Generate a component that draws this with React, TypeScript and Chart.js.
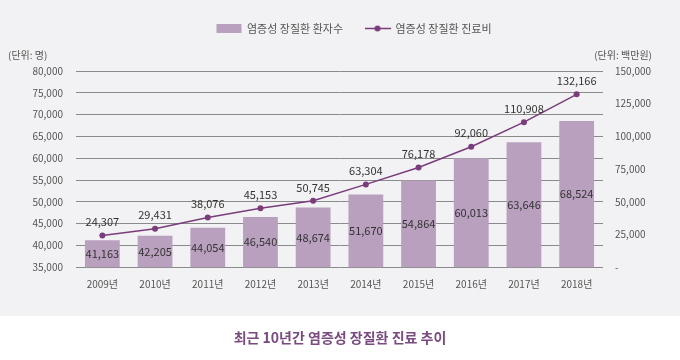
import React, { useEffect, useRef } from "react";
import { Chart, registerables } from "chart.js";

Chart.register(...registerables);

const years = ["2009년", "2010년", "2011년", "2012년", "2013년", "2014년", "2015년", "2016년", "2017년", "2018년"];
const patients = [41163, 42205, 44054, 46540, 48674, 51670, 54864, 60013, 63646, 68524];
const costs = [24307, 29431, 38076, 45153, 50745, 63304, 76178, 92060, 110908, 132166];
const patientLabel = "염증성 장질환 환자수";
const costLabel = "염증성 장질환 진료비";
const leftUnit = "(단위: 명)";
const rightUnit = "(단위: 백만원)";
const titleText = "최근 10년간 염증성 장질환 진료 추이";

const FONT = "'Noto Sans CJK KR', 'Noto Sans', sans-serif";
const BAR_COLOR = "#b9a0bf";
const LINE_COLOR = "#7a3d7c";
const TEXT_COLOR = "#555555";
const GRID_COLOR = "#8a8a8a";

function fmt(v: number) {
  return v.toLocaleString("en-US");
}

function makeLineIcon() {
  const c = document.createElement("canvas");
  c.width = 26;
  c.height = 9;
  const ctx = c.getContext("2d")!;
  ctx.strokeStyle = LINE_COLOR;
  ctx.lineWidth = 1.5;
  ctx.beginPath();
  ctx.moveTo(0, 4.5);
  ctx.lineTo(26, 4.5);
  ctx.stroke();
  ctx.fillStyle = LINE_COLOR;
  ctx.beginPath();
  ctx.arc(13, 4.5, 3, 0, Math.PI * 2);
  ctx.fill();
  return c;
}

export default function App() {
  const ref = useRef<HTMLCanvasElement | null>(null);

  useEffect(() => {
    document.body.style.margin = "0";
    const lineIcon = makeLineIcon();

    const legendMargin = {
      id: "legendMargin",
      beforeInit(chart: any) {
        const lg = chart.legend;
        const origFit = lg.fit;
        lg.fit = function () {
          origFit.bind(lg)();
          this.height += 27;
        };
        const origDraw = lg.draw;
        lg.draw = function () {
          const ctx = chart.ctx;
          ctx.save();
          ctx.translate(14, 0);
          origDraw.bind(lg)();
          ctx.restore();
        };
      },
    };

    const labelsPlugin = {
      id: "valueLabels",
      afterDatasetsDraw(chart: any) {
        const ctx = chart.ctx;
        const area = chart.chartArea;
        ctx.save();
        // bar labels
        const barMeta = chart.getDatasetMeta(0);
        ctx.font = `11px ${FONT}`;
        ctx.fillStyle = "#333333";
        ctx.textAlign = "center";
        ctx.textBaseline = "middle";
        barMeta.data.forEach((el: any, i: number) => {
          const base = Math.min(el.base, area.bottom);
          const y = (el.y + base) / 2;
          ctx.fillText(fmt(patients[i]), el.x, y);
        });
        // line labels
        const lineMeta = chart.getDatasetMeta(1);
        ctx.textBaseline = "bottom";
        lineMeta.data.forEach((el: any, i: number) => {
          ctx.fillText(fmt(costs[i]), el.x, el.y - 8);
        });
        // units
        ctx.font = `10px ${FONT}`;
        ctx.fillStyle = TEXT_COLOR;
        ctx.textBaseline = "middle";
        ctx.textAlign = "left";
        ctx.fillText(leftUnit, 8, area.top - 16);
        ctx.textAlign = "right";
        ctx.fillText(rightUnit, 652, area.top - 16);
        ctx.restore();
      },
    };

    const chart = new Chart(ref.current!, {
      data: {
        labels: years,
        datasets: [
          {
            type: "bar",
            label: patientLabel,
            data: patients,
            yAxisID: "y",
            backgroundColor: BAR_COLOR,
            barPercentage: 0.66,
            categoryPercentage: 1,
            order: 2,
          },
          {
            type: "line",
            label: costLabel,
            data: costs,
            yAxisID: "y1",
            borderColor: LINE_COLOR,
            backgroundColor: LINE_COLOR,
            borderWidth: 1.5,
            pointRadius: 3,
            pointBackgroundColor: LINE_COLOR,
            pointBorderWidth: 0,
            order: 1,
          },
        ],
      } as any,
      options: {
        animation: false,
        responsive: false,
        maintainAspectRatio: false,
        layout: { padding: { top: 1, left: 0, right: 0, bottom: 0 } },
        plugins: {
          legend: {
            display: true,
            position: "top",
            labels: {
              font: { family: FONT, size: 11 },
              color: TEXT_COLOR,
              usePointStyle: true,
              pointStyleWidth: 25,
              boxHeight: 9,
              padding: 22,
              generateLabels: () => [
                {
                  text: patientLabel,
                  fillStyle: BAR_COLOR,
                  strokeStyle: BAR_COLOR,
                  lineWidth: 0,
                  pointStyle: "rect",
                  datasetIndex: 0,
                  hidden: false,
                  fontColor: TEXT_COLOR,
                } as any,
                {
                  text: costLabel,
                  fillStyle: LINE_COLOR,
                  strokeStyle: LINE_COLOR,
                  lineWidth: 0,
                  pointStyle: lineIcon,
                  datasetIndex: 1,
                  hidden: false,
                  fontColor: TEXT_COLOR,
                } as any,
              ],
            },
          },
          title: {
            display: true,
            position: "bottom",
            text: titleText,
            color: "#7a4a80",
            font: { family: FONT, size: 14, weight: "bold" },
            padding: { top: 36, bottom: 14 },
          },
          tooltip: { enabled: false },
        },
        scales: {
          x: {
            grid: { display: false },
            border: { display: false },
            ticks: { color: TEXT_COLOR, font: { family: FONT, size: 10 }, padding: 3 },
          },
          y: {
            position: "left",
            min: 35000,
            max: 80000,
            grid: { color: GRID_COLOR, drawTicks: false, lineWidth: 1 },
            border: { display: false },
            ticks: {
              stepSize: 5000,
              color: TEXT_COLOR,
              font: { family: FONT, size: 10 },
              padding: 13,
              callback: (v: any) => fmt(Number(v)),
            },
            afterFit: (s: any) => {
              s.width = 76;
            },
          },
          y1: {
            position: "right",
            min: 0,
            max: 150000,
            grid: { display: false, drawTicks: false },
            border: { display: false },
            ticks: {
              stepSize: 25000,
              color: TEXT_COLOR,
              font: { family: FONT, size: 10 },
              padding: 12,
              callback: (v: any) => (Number(v) === 0 ? "-" : fmt(Number(v))),
            },
            afterFit: (s: any) => {
              s.width = 77;
            },
          },
        },
      } as any,
      plugins: [legendMargin, labelsPlugin],
    });
    return () => chart.destroy();
  }, []);

  return (
    <div
      style={{
        position: "absolute",
        left: 0,
        top: 0,
        width: 680,
        height: 360,
        background: "linear-gradient(to bottom, #f2f1f3 0px, #f2f1f3 316px, #ffffff 316px)",
      }}
    >
      <canvas ref={ref} width={680} height={360} style={{ width: 680, height: 360, display: "block" }} />
    </div>
  );
}
